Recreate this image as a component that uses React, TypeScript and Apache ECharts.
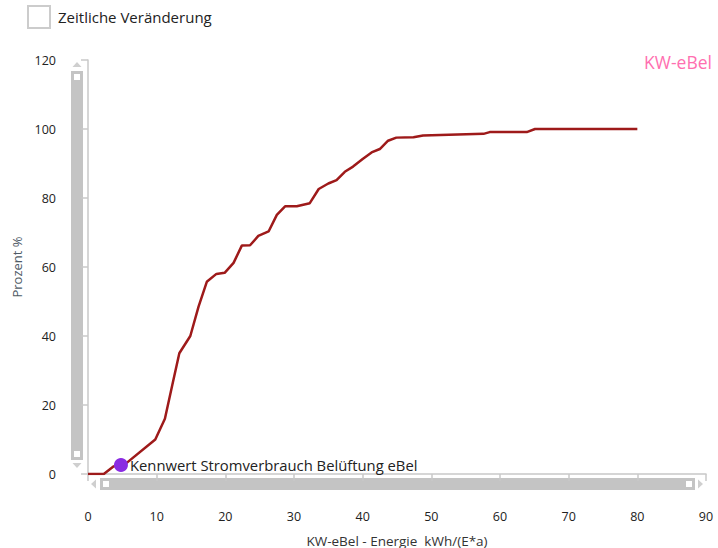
import React, { useEffect, useRef } from "react";
import * as echarts from "echarts";

const curveX = [0, 2.3, 3.7, 5.5, 9.8, 11.2, 12.3, 13.3, 14.9, 16.1, 17.3, 18.7, 19.9, 21.2, 22.4, 23.6, 24.8, 26.3, 27.5, 28.7, 30.4, 32.3, 33.6, 35.0, 36.2, 37.4, 38.6, 40.0, 41.3, 42.5, 43.7, 44.9, 47.4, 48.8, 57.6, 58.5, 63.9, 65.1, 80];
const curveY = [0, 0, 2.2, 3, 10, 16, 26, 35, 40, 48.5, 55.7, 58, 58.3, 61.2, 66.2, 66.3, 69, 70.3, 75.1, 77.6, 77.6, 78.5, 82.6, 84.2, 85.2, 87.6, 89.1, 91.3, 93.2, 94.2, 96.6, 97.5, 97.6, 98.1, 98.6, 99.1, 99.1, 100, 100];
const markerPoint = [4.8, 2.6];
const markerLabel = "Kennwert Stromverbrauch Belüftung eBel";
const seriesName = "KW-eBel";
const xAxisName = "KW-eBel - Energie  kWh/(E*a)";
const yAxisName = "Prozent %";
const checkboxLabel = "Zeitliche Veränderung";

const FONT = "Open Sans";

export default function App() {
  const ref = useRef<HTMLDivElement>(null);
  useEffect(() => {
    if (!ref.current) return;
    const chart = echarts.init(ref.current, null, { renderer: "svg" });
    const barColor = "#c4c4c4";
    const arrowColor = "#cfcfcf";
    chart.setOption({
      animation: false,
      backgroundColor: "#ffffff",
      textStyle: { fontFamily: FONT },
      grid: { left: 88, right: 12, top: 60, bottom: 74, outerBoundsMode: "none", containLabel: false },
      xAxis: {
        type: "value",
        min: 0,
        max: 90,
        interval: 10,
        offset: 20,
        name: xAxisName,
        nameLocation: "middle",
        nameGap: 40,
        nameTextStyle: { color: "#333", fontSize: 13.5, fontFamily: FONT },
        axisLine: { show: true, lineStyle: { color: "#c8c8c8", width: 1.5 } },
        axisTick: { show: true, length: 7, lineStyle: { color: "#c8c8c8", width: 1.5 } },
        axisLabel: { color: "#222", fontSize: 12.5, margin: 16, fontFamily: FONT },
        splitLine: { show: false },
      },
      yAxis: {
        type: "value",
        min: 0,
        max: 120,
        interval: 20,
        offset: 20,
        name: yAxisName,
        nameLocation: "middle",
        nameGap: 45,
        nameTextStyle: { color: "#4f5b66", fontSize: 13, fontFamily: FONT },
        axisLine: { show: true, lineStyle: { color: "#c8c8c8", width: 1.5 } },
        axisTick: { show: true, length: 7, lineStyle: { color: "#c8c8c8", width: 1.5 } },
        axisLabel: { color: "#222", fontSize: 12.5, margin: 12, fontFamily: FONT },
        splitLine: { show: false },
      },
      series: [
        {
          name: seriesName,
          type: "line",
          data: curveX.map((x, i) => [x, curveY[i]]),
          showSymbol: false,
          symbol: "none",
          lineStyle: { color: "#9e1a1a", width: 2.5 },
          z: 2,
        },
        {
          type: "scatter",
          data: [markerPoint],
          symbolSize: 14,
          itemStyle: { color: "#8a2be2", opacity: 1 },
          label: {
            show: true,
            position: "right",
            distance: 2,
            formatter: markerLabel,
            color: "#222",
            fontSize: 14.8,
            fontFamily: FONT,
          },
          z: 3,
        },
      ],
      graphic: [
        {
          type: "rect",
          shape: { x: 28, y: 6, width: 22, height: 22 },
          style: { fill: "#ffffff", stroke: "#cccccc", lineWidth: 2 },
        },
        {
          type: "text",
          x: 58,
          y: 17,
          style: {
            text: checkboxLabel,
            fill: "#222",
            font: `15px "${FONT}"`,
            verticalAlign: "middle",
          },
        },
        {
          type: "text",
          x: 712,
          y: 62,
          style: {
            text: seriesName,
            fill: "#ff6fb0",
            font: `17.5px "${FONT}"`,
            align: "right",
            verticalAlign: "middle",
          },
        },
        {
          type: "rect",
          shape: { x: 71, y: 71, width: 12, height: 389 },
          style: { fill: barColor },
        },
        { type: "rect", shape: { x: 74, y: 74, width: 6, height: 6 }, style: { fill: "#ffffff" } },
        { type: "rect", shape: { x: 74, y: 451, width: 6, height: 6 }, style: { fill: "#ffffff" } },
        { type: "polygon", shape: { points: [[72.5, 67], [81.5, 67], [77, 62]] }, style: { fill: arrowColor } },
        { type: "polygon", shape: { points: [[72.5, 463], [81.5, 463], [77, 468]] }, style: { fill: arrowColor } },
        {
          type: "rect",
          shape: { x: 100, y: 478, width: 595, height: 12 },
          style: { fill: barColor },
        },
        { type: "rect", shape: { x: 103, y: 481, width: 6, height: 6 }, style: { fill: "#ffffff" } },
        { type: "rect", shape: { x: 686, y: 481, width: 6, height: 6 }, style: { fill: "#ffffff" } },
        { type: "polygon", shape: { points: [[96, 479.5], [96, 488.5], [91, 484]] }, style: { fill: arrowColor } },
        { type: "polygon", shape: { points: [[698, 479.5], [698, 488.5], [703, 484]] }, style: { fill: arrowColor } },
      ],
    });
    return () => chart.dispose();
  }, []);
  return (
    <div
      ref={ref}
      style={{ position: "fixed", left: 0, top: 0, width: 718, height: 548 }}
    />
  );
}
